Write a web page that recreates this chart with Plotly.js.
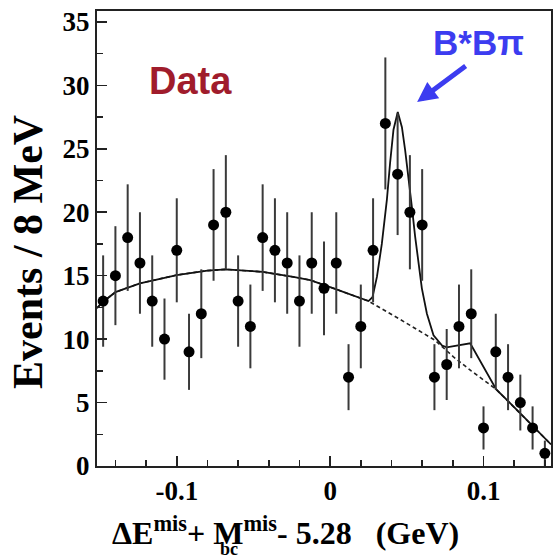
<!DOCTYPE html>
<html>
<head>
<meta charset="utf-8">
<script src="https://cdn.plot.ly/plotly-3.0.1.min.js"></script>
<style>html,body{margin:0;padding:0;background:#fff;}#chart{width:554px;height:559px;}</style>
</head>
<body>
<div id="chart"></div>
<script>
// Bin centres (GeV), 8 MeV bins
const binCenters = [-0.148,-0.140,-0.132,-0.124,-0.116,-0.108,-0.100,-0.092,-0.084,-0.076,-0.068,-0.060,-0.052,-0.044,-0.036,-0.028,-0.020,-0.012,-0.004,0.004,0.012,0.020,0.028,0.036,0.044,0.052,0.060,0.068,0.076,0.084,0.092,0.100,0.108,0.116,0.124,0.132,0.140];
const events = [13,15,18,16,13,10,17,9,12,19,20,13,11,18,17,16,13,16,14,16,7,11,17,27,23,20,19,7,8,11,12,3,9,7,5,3,1];
const eventErrors = [3.6,3.9,4.2,4.0,3.6,3.2,4.1,3.0,3.5,4.4,4.5,3.6,3.3,4.2,4.1,4.0,3.6,4.0,3.7,4.0,2.6,3.3,4.1,5.2,4.8,4.5,4.4,2.6,2.8,3.3,3.5,1.7,3.0,2.6,2.2,1.7,1.0];

// Background fit (dashed)
const bkgX = [-0.152,-0.148,-0.140,-0.124,-0.100,-0.080,-0.068,-0.044,-0.024,-0.013,0.000,0.012,0.025,0.045,0.0587,0.0685,0.0804,0.092,0.1083,0.124,0.1413,0.144];
const bkgY = [12.45,12.95,13.7,14.4,15.05,15.4,15.5,15.3,14.9,14.65,14.1,13.55,13.0,11.6,10.6,9.9,8.6,7.5,6.04,4.15,2.05,1.7];

// Total fit (solid)
const totX = [-0.152,-0.148,-0.140,-0.124,-0.100,-0.080,-0.068,-0.044,-0.024,-0.013,0.000,0.012,0.025,0.0276,0.0305,0.0337,0.037,0.0391,0.0413,0.0441,0.0468,0.0489,0.0511,0.0533,0.0554,0.0576,0.0598,0.0631,0.0674,0.0730,0.0760,0.0913,0.1083,0.124,0.1413,0.144];
const totY = [12.45,12.95,13.7,14.4,15.05,15.4,15.5,15.3,14.9,14.65,14.1,13.55,13.0,13.3,14.9,17.5,21.0,23.9,26.5,27.9,26.7,24.9,22.8,20.4,18.1,16.0,14.0,12.0,10.3,9.5,9.35,9.67,6.04,4.15,2.05,1.7];

const yTickVals = [0,5,10,15,20,25,30,35];
const xTickVals = [-0.1,0,0.1];
const xTickText = ['-0.1','0','0.1'];

const serif = '"Liberation Serif", "Times New Roman", serif';
const sans = '"Liberation Sans", Arial, sans-serif';

const traces = [
  {x: bkgX, y: bkgY, type:'scatter', mode:'lines', line:{color:'#222', width:1.6, dash:'4px,3px'}, hoverinfo:'skip'},
  {x: totX, y: totY, type:'scatter', mode:'lines', line:{color:'#111', width:1.8}, hoverinfo:'skip'},
  {x: binCenters, y: events, type:'scatter', mode:'markers',
   marker:{color:'#000', size:11},
   error_y:{type:'data', array: eventErrors, visible:true, color:'#3a3a3a', thickness:2, width:0}}
];

function px(v){ return (v-97)/453.8; }
function py(v){ return (466-v)/455; }

const layout = {
  width:554, height:559,
  margin:{l:97, r:3, t:11, b:93},
  paper_bgcolor:'#fff', plot_bgcolor:'#fff',
  showlegend:false,
  xaxis:{
    range:[-0.152,0.144], showgrid:false, zeroline:false,
    showline:true, mirror:true, linecolor:'#222', linewidth:2,
    ticks:'inside', ticklen:10, tickwidth:1.5, tickcolor:'#222',
    tickvals:xTickVals, ticktext:xTickText,
    minor:{dtick:0.02, tick0:0, ticks:'inside', ticklen:6, tickwidth:1.5, tickcolor:'#222'},
    tickfont:{family:serif, size:27, color:'#000', weight:'bold'}
  },
  yaxis:{
    range:[0,35.86], showgrid:false, zeroline:false,
    showline:true, mirror:true, linecolor:'#222', linewidth:2,
    ticks:'inside', ticklen:10, tickwidth:1.5, tickcolor:'#222',
    tickvals:yTickVals,
    minor:{dtick:2.5, tick0:0, ticks:'inside', ticklen:6, tickwidth:1.5, tickcolor:'#222'},
    tickfont:{family:serif, size:27, color:'#000', weight:'bold'}
  },
  annotations:[
    {xref:'paper', yref:'paper', x:px(110), y:py(553), xanchor:'left', yanchor:'bottom', showarrow:false,
     text:'ΔE<sup>mis</sup>+ M<sup>mis</sup>- 5.28\u00a0\u00a0\u00a0(GeV)',
     font:{family:serif, size:32, color:'#000', weight:'bold'}},
    {xref:'paper', yref:'paper', x:px(218), y:py(549), xanchor:'left', yanchor:'middle', showarrow:false,
     text:'bc', font:{family:serif, size:18, color:'#000', weight:'bold'}},
    {xref:'paper', yref:'paper', x:px(28), y:py(252), xanchor:'center', yanchor:'middle', showarrow:false,
     textangle:-90, text:'Events / 8 MeV', font:{family:serif, size:42, color:'#000', weight:'bold'}},
    {xref:'paper', yref:'paper', x:px(190), y:py(81), xanchor:'center', yanchor:'middle', showarrow:false,
     text:'Data', font:{family:sans, size:38, color:'#a01c2c', weight:'bold'}},
    {xref:'paper', yref:'paper', x:px(478), y:py(43), xanchor:'center', yanchor:'middle', showarrow:false,
     text:'B*Bπ', font:{family:sans, size:35, color:'#3c3cf0', weight:'bold'}},
    {xref:'paper', yref:'paper', x:px(417), y:py(102), showarrow:true, text:'',
     ax:50, ay:-37, arrowcolor:'#3c3cf0', arrowwidth:5, arrowhead:2, arrowsize:0.8, standoff:0}
  ]
};

Plotly.newPlot('chart', traces, layout, {staticPlot:true, displayModeBar:false});
</script>
</body>
</html>
